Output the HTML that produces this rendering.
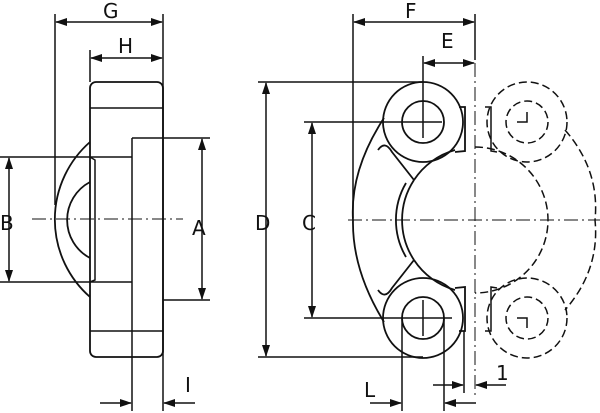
<!DOCTYPE html>
<html><head><style>body{margin:0;background:#fff}svg{display:block}text{font-family:"DejaVu Sans","Liberation Sans",sans-serif;font-size:20px;fill:#111}</style></head>
<body>
<svg width="600" height="413" viewBox="0 0 600 413" xmlns="http://www.w3.org/2000/svg">
<g stroke="#111" stroke-width="1.5" fill="none">
<!-- LEFT VIEW -->
<line x1="55" y1="14" x2="55" y2="205"/>
<line x1="163" y1="14" x2="163" y2="411"/>
<line x1="56" y1="22" x2="162" y2="22"/>
<line x1="90" y1="50" x2="90" y2="82"/>
<line x1="91" y1="58" x2="162" y2="58"/>
<rect x="90" y="82" width="73" height="275" rx="6" stroke-width="1.8"/>
<line x1="90" y1="108" x2="163" y2="108"/>
<line x1="90" y1="331" x2="163" y2="331"/>
<line x1="132" y1="138" x2="132" y2="303"/>
<line x1="132" y1="138" x2="210" y2="138"/>
<line x1="163" y1="300" x2="210" y2="300"/>
<line x1="132" y1="303" x2="132" y2="411"/>
<line x1="202" y1="139" x2="202" y2="299"/>
<line x1="0" y1="157" x2="132" y2="157"/>
<line x1="0" y1="282" x2="132" y2="282"/>
<line x1="9" y1="158" x2="9" y2="281"/>
<path d="M90,142 A103,103 0 0 0 90,297" stroke-width="1.8"/>
<path d="M90,182 A43,43 0 0 0 90,258" stroke-width="1.8"/>
<path d="M90,157 L95,160 L95,280 L90,282"/>
<line x1="32" y1="219" x2="183" y2="219" stroke-width="1" stroke-dasharray="14,4,2,4"/>
<line x1="100" y1="403" x2="131" y2="403"/>
<line x1="195" y1="403" x2="164" y2="403"/>
<!-- RIGHT VIEW -->
<line x1="353" y1="14" x2="353" y2="218"/>
<line x1="475" y1="14" x2="475" y2="60"/>
<line x1="354" y1="22" x2="474" y2="22"/>
<line x1="423" y1="56" x2="423" y2="138"/>
<line x1="424" y1="63" x2="474" y2="63"/>
<line x1="258" y1="82" x2="423" y2="82"/>
<line x1="258" y1="357" x2="423" y2="357"/>
<line x1="266" y1="83" x2="266" y2="356"/>
<line x1="304" y1="122" x2="442" y2="122"/>
<line x1="304" y1="318" x2="452" y2="318"/>
<line x1="312" y1="123" x2="312" y2="317"/>
<g stroke-width="1.8">
<circle cx="423" cy="122" r="40"/>
<circle cx="423" cy="122" r="21"/>
<circle cx="423" cy="318" r="40"/>
<circle cx="423" cy="318" r="21"/>
<path d="M459,107 L465,107 L465,151 L455,152"/>
<path d="M459,331 L465,331 L465,287 L455,288"/>
<path d="M384,118 Q350,170 353,220 Q352,270 384,322"/>
<path d="M378,150 Q385,140 392,152 L414,180"/>
<path d="M378,290 Q385,300 392,288 L414,260"/>
<path d="M414,180 A73,73 0 0 0 414,260"/>
<path d="M406,183 A73,73 0 0 0 406,257"/>
<path d="M414,180 A73,73 0 0 1 455,150"/>
<path d="M414,260 A73,73 0 0 0 455,290"/>
</g>
<line x1="423" y1="300" x2="423" y2="336"/>
<line x1="402" y1="318" x2="402" y2="411"/>
<line x1="444" y1="318" x2="444" y2="411"/>
<line x1="370" y1="403" x2="401" y2="403"/>
<line x1="476" y1="403" x2="445" y2="403"/>
<line x1="464" y1="331" x2="464" y2="393"/>
<line x1="433" y1="385" x2="463" y2="385"/>
<line x1="506" y1="385" x2="476" y2="385"/>
<line x1="475" y1="63" x2="475" y2="395" stroke-width="1" stroke-dasharray="14,4,2,4"/>
<line x1="348" y1="220" x2="600" y2="220" stroke-width="1" stroke-dasharray="14,4,2,4"/>
<!-- phantom -->
<g stroke-dasharray="8,4">
<circle cx="527" cy="122" r="40"/>
<circle cx="527" cy="318" r="40"/>
<circle cx="527" cy="122" r="21"/>
<circle cx="527" cy="318" r="21"/>
<path d="M475,147 A73,73 0 0 1 475,293"/>
<path d="M565,130 Q600,170 595,220 Q600,270 565,310"/>
</g>
<path d="M517,122 H527 V112 M517,318 H527 V328"/>
<path d="M485,107 L491,107 L491,151 L497,152 M485,331 L491,331 L491,287 L497,288"/>
</g>
<g fill="#111">
<path d="M55,22 l12,-4 v8z M163,22 l-12,-4 v8z"/>
<path d="M90,58 l12,-4 v8z M163,58 l-12,-4 v8z"/>
<path d="M202,138 l-4,12 h8z M202,300 l-4,-12 h8z"/>
<path d="M9,157 l-4,12 h8z M9,282 l-4,-12 h8z"/>
<path d="M132,403 l-12,-4 v8z M163,403 l12,-4 v8z"/>
<path d="M353,22 l12,-4 v8z M475,22 l-12,-4 v8z"/>
<path d="M423,63 l12,-4 v8z M475,63 l-12,-4 v8z"/>
<path d="M266,82 l-4,12 h8z M266,357 l-4,-12 h8z"/>
<path d="M312,122 l-4,12 h8z M312,318 l-4,-12 h8z"/>
<path d="M402,403 l-12,-4 v8z M444,403 l12,-4 v8z"/>
<path d="M464,385 l-12,-4 v8z M475,385 l12,-4 v8z"/>
</g>
<text x="103" y="18">G</text>
<text x="118" y="53">H</text>
<text x="192" y="235">A</text>
<text x="0" y="230">B</text>
<text x="185" y="392">I</text>
<text x="405" y="18">F</text>
<text x="441" y="48">E</text>
<text x="255" y="230">D</text>
<text x="302" y="230">C</text>
<text x="364" y="397">L</text>
<text x="496" y="380">1</text>
</svg>
</body></html>
